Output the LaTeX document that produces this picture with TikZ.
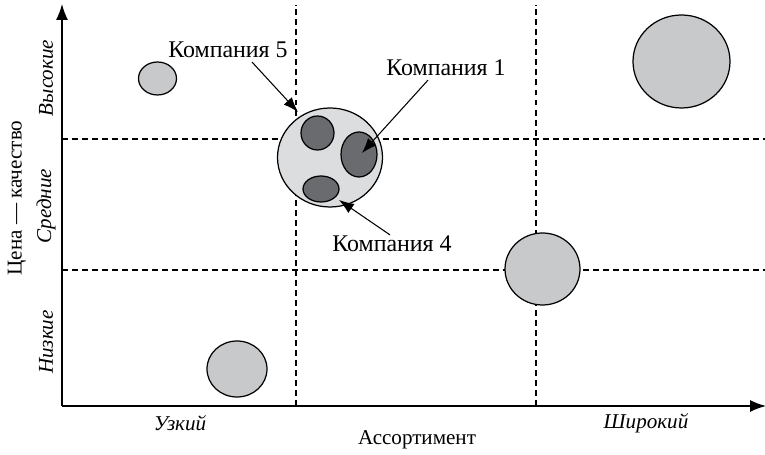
\documentclass[tikz,border=0pt]{standalone}
\usepackage{fontspec}
\setmainfont{Liberation Serif}
\usepackage{tikz}
\usetikzlibrary{shapes.geometric,arrows.meta}
\definecolor{firmgray}{HTML}{C8C9CB}
\definecolor{groupgray}{HTML}{DCDDDE}
\definecolor{darkgray}{HTML}{6A6B6E}

\begin{document}
\begin{tikzpicture}[
  font=\fontsize{12}{14}\selectfont,
  firm/.style={ellipse, draw, line width=0.7pt, fill=firmgray, inner sep=0pt},
  inner/.style={ellipse, draw, line width=0.7pt, fill=darkgray, inner sep=0pt},
  grid/.style={line width=0.6pt, dash pattern=on 3.4pt off 2.3pt},
  label/.style={inner sep=1pt},
  company/.style={inner sep=1pt, font=\fontsize{13.6}{16}\selectfont},
  level/.style={inner sep=1pt, rotate=90, font=\fontsize{12}{14}\selectfont\itshape},
  pointer/.style={-{Latex[length=0.3cm, width=0.22cm]}, line width=0.6pt}
]
\useasboundingbox (0,0) rectangle (15.3,9.1);

% Define axis points
\coordinate (origin) at (1.24, 0.98);
\coordinate (ytop) at (1.24, 9.02);
\coordinate (xend) at (15.32, 0.98);

% Draw dashed grid
\draw[grid] (1.24, 6.32) -- (15.3, 6.32);
\draw[grid] (1.24, 3.70) -- (15.3, 3.70);
\draw[grid] (5.92, 0.98) -- (5.92, 9.0);
\draw[grid] (10.72, 0.98) -- (10.72, 9.0);

% Draw axes
\draw[-{Latex[length=0.32cm, width=0.24cm]}, line width=0.8pt] (origin) -- (ytop);
\draw[-{Latex[length=0.32cm, width=0.24cm]}, line width=0.8pt] (origin) -- (xend);

% Companies
\node[firm, minimum width=0.76cm, minimum height=0.66cm] (c6) at (3.15, 7.53) {};
\node[firm, fill=groupgray, minimum width=2.10cm, minimum height=1.98cm] (grp) at (6.60, 5.95) {};
\node[inner, minimum width=0.66cm, minimum height=0.68cm] (c5) at (6.35, 6.44) {};
\node[inner, minimum width=0.72cm, minimum height=0.90cm] (c1) at (7.18, 6.01) {};
\node[inner, minimum width=0.72cm, minimum height=0.52cm] (c4) at (6.42, 5.32) {};
\node[firm, minimum width=1.94cm, minimum height=1.86cm] (c2) at (13.63, 7.87) {};
\node[firm, minimum width=1.50cm, minimum height=1.44cm] (c3) at (10.85, 3.72) {};
\node[firm, minimum width=1.20cm, minimum height=1.12cm] (c7) at (4.74, 1.72) {};

% Label companies
\node[company] (k5) at (4.56, 8.10) {Компания 5};
\node[company] (k1) at (8.92, 7.74) {Компания 1};
\node[company] (k4) at (7.84, 4.22) {Компания 4};

\coordinate (t5) at (5.96, 6.86);
\coordinate (t1) at (7.24, 6.04);
\coordinate (t4) at (6.78, 5.10);

\draw[pointer] ([xshift=0.48cm, yshift=-0.04cm]k5.south) -- (t5);
\draw[pointer] ([xshift=-0.36cm, yshift=-0.04cm]k1.south) -- (t1);
\draw[pointer] ([xshift=-0.04cm, yshift=-0.02cm]k4.north) -- (t4);

% Axis labels
\node[level] (high) at (0.92, 7.54) {Высокие};
\node[level] (mid) at (0.92, 4.98) {Средние};
\node[level] (low) at (0.92, 2.26) {Низкие};
\node[label, rotate=90] (price) at (0.34, 5.14) {Цена — качество};

\node[label, font=\fontsize{12}{14}\selectfont\itshape] (narrow) at (3.60, 0.64) {Узкий};
\node[label, font=\fontsize{12}{14}\selectfont\itshape] (wide) at (12.92, 0.64) {Широкий};
\node[label] (range) at (8.34, 0.30) {Ассортимент};

\end{tikzpicture}
\end{document}
